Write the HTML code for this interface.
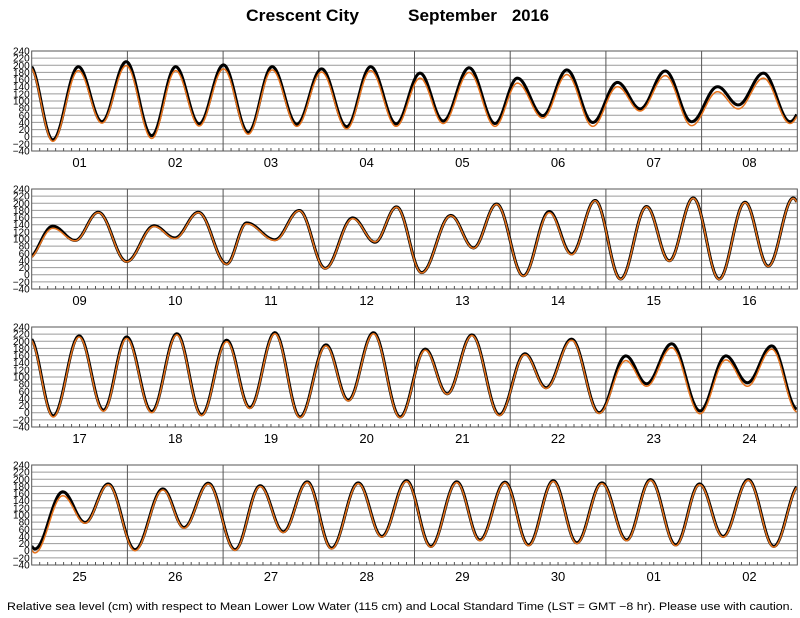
<!DOCTYPE html>
<html><head><meta charset="utf-8"><style>
html,body{margin:0;padding:0;background:#fff;}
svg{display:block;font-family:"Liberation Sans",sans-serif;}
</style></head><body>
<svg id="chart" width="800" height="618" viewBox="0 0 800 618" xmlns="http://www.w3.org/2000/svg">
<text x="246" y="21" font-size="17" font-weight="bold" textLength="113" lengthAdjust="spacingAndGlyphs">Crescent City</text>
<text x="408" y="21" font-size="17" font-weight="bold" textLength="89" lengthAdjust="spacingAndGlyphs">September</text>
<text x="512" y="21" font-size="17" font-weight="bold" textLength="37" lengthAdjust="spacingAndGlyphs">2016</text>
<text x="400" y="610" font-size="11" text-anchor="middle" textLength="786" lengthAdjust="spacingAndGlyphs">Relative sea level (cm) with respect to Mean Lower Low Water (115 cm) and Local Standard Time (LST = GMT −8 hr). Please use with caution.</text>
<g id="panels"></g>
</svg>
<script>
// Day labels per panel
const dayLabels = [
 ["01","02","03","04","05","06","07","08"],
 ["09","10","11","12","13","14","15","16"],
 ["17","18","19","20","21","22","23","24"],
 ["25","26","27","28","29","30","01","02"]
];
const yTicks = [240,220,200,180,160,140,120,100,80,60,40,20,0,-20,-40];
// Extreme times (hours from panel start) and heights (cm)
const times1 = [-0.5,5.3,11.7,17.6,23.7,30.1,36.1,42.0,48.1,54.3,60.3,66.5,72.7,79.0,85.0,91.4,97.4,103.2,109.7,116.2,121.8,128.2,134.2,140.7,146.9,152.6,158.9,165.5,172.0,177.2,183.5,190.2,196.5];
const obs1 = [200,-9,196,42,210,3,196,36,201,12,196,35,190,28,196,36,178,44,193,37,164,59,187,40,152,78,184,42,140,89,178,42,170];
const pred1 = [195,-13,185,38,199,-5,185,30,190,7,187,29,181,22,185,29,164,37,180,29,150,52,174,29,140,72,171,31,126,78,164,37,160];
const times2 = [-1,5.3,10.9,16.7,23.8,30.7,35.9,41.8,48.9,53.9,61.0,67.1,73.6,80.5,86.1,91.5,97.8,105.1,110.8,116.6,123.3,129.8,135.4,141.3,147.7,154.2,159.9,165.9,172.4,178.9,184.7,191.0,197];
const obs2 = [45,136,96,175,37,137,103,175,30,145,98,180,18,159,91,190,6,166,75,198,-3,177,58,208,-12,191,39,215,-12,203,24,215,-10];
const pred2 = [43,130,95,174,36,135,101,174,29,143,96,179,17,157,92,189,5,165,74,197,-4,174,56,207,-13,190,38,214,-13,202,23,214,-11];
const times3 = [-0.5,5.4,11.9,18.0,23.8,30.1,36.4,42.6,48.9,54.7,61.0,67.3,73.8,79.4,85.7,92.4,98.7,104.2,110.4,117.3,123.7,129.0,135.4,142.3,149.0,154.2,160.5,167.6,174.1,179.5,185.6,192];
const obs3 = [210,-9,215,7,212,3,221,-6,203,14,224,-12,190,35,224,-12,178,53,218,-6,165,70,206,0,159,81,193,5,159,84,187,10];
const pred3 = [206,-12,212,4,208,0,218,-8,199,12,221,-14,187,33,221,-14,175,52,216,-8,163,68,203,-2,146,74,182,-3,148,74,178,2];
const times4 = [-5,0.8,7.8,13.4,19.2,25.9,32.9,38.2,44.3,51.0,57.3,63.1,69.1,75.2,81.9,87.8,94.0,100.1,106.6,112.4,118.7,124.6,130.8,136.7,143.0,149.2,155.2,161.5,167.5,173.4,179.7,186.1,192.6];
const obs4 = [180,5,165,79,187,3,173,65,189,3,182,53,193,7,190,40,196,12,193,30,192,16,196,22,190,30,199,16,187,40,199,12,185];
const pred4 = [175,-6,154,77,185,0,170,63,187,1,180,51,191,5,188,38,194,10,191,28,190,14,194,20,188,28,197,14,185,38,197,10,183];
const panelTimes = [times1,times2,times3,times4];
const panelObs = [obs1,obs2,obs3,obs4];
const panelPred = [pred1,pred2,pred3,pred4];

const NS = "http://www.w3.org/2000/svg";
const X0 = 31.7, DAYW = 95.7, NDAYS = 8, PH = 100, TOP0 = 51, PSTEP = 138;
const YMAX = 240, YMIN = -40;
const root = document.getElementById('panels');
function mk(tag, attrs, parent){const e=document.createElementNS(NS,tag);for(const k in attrs)e.setAttribute(k,attrs[k]);(parent||root).appendChild(e);return e;}
function valAt(ts, vs, h){
  for(let i=0;i<ts.length-1;i++){
    if(h>=ts[i] && h<=ts[i+1]){
      const f=(h-ts[i])/(ts[i+1]-ts[i]);
      return vs[i]+(vs[i+1]-vs[i])*(1-Math.cos(Math.PI*f))/2;
    }
  }
  return h<ts[0]?vs[0]:vs[vs.length-1];
}
const W = DAYW*NDAYS;
for(let p=0;p<4;p++){
  const top = TOP0 + p*PSTEP;
  const yScale = v => top + (YMAX - v)/(YMAX-YMIN)*PH;
  const g = mk('g',{});
  
  
  yTicks.forEach(v=>{
    const y=yScale(v);
    if(v!==YMAX && v!==YMIN){
      const l=mk('line',{x1:X0,x2:X0+W,y1:y,y2:y,stroke:'#9a9a9a','stroke-width':1},g);
      
      
    }
    const t=mk('text',{x:X0-2,y:y+3.5,'font-size':10,'text-anchor':'end'},g);
    
    
    t.textContent = v<0 ? '\u2212'+(-v) : String(v);
  });
  for(let d=1; d<NDAYS; d++){
    const x=X0+d*DAYW;
    const l=mk('line',{x1:x,x2:x,y1:top,y2:top+PH,stroke:'#555','stroke-width':1},g);
    
    
  }
  for(let k=1;k<NDAYS*12;k++){
    const x=X0+k*DAYW/12;
    const l=mk('line',{x1:x,x2:x,y1:top+PH,y2:top+PH-3,stroke:'#555','stroke-width':1},g);
    
    
  }
  dayLabels[p].forEach((lab,d)=>{
    const t=mk('text',{x:X0+(d+0.5)*DAYW,y:top+PH+16,'font-size':13,'text-anchor':'middle'},g);
    
    
    t.textContent=lab;
  });
  const ts=panelTimes[p];
  function series(vs){
    let d='';
    for(let px=0;px<=W;px+=1){
      const h=px/DAYW*24;
      const v=valAt(ts,vs,h);
      d+=(px?'L':'M')+(X0+px).toFixed(1)+' '+yScale(v).toFixed(2);
    }
    return d;
  }
  const clipId='clip'+p;
  const cp=mk('clipPath',{id:clipId},g);
  mk('rect',{x:X0,y:top,width:W,height:PH},cp);
  const ob=mk('path',{d:series(panelObs[p]),fill:'none',stroke:'#000','stroke-width':3,'clip-path':'url(#'+clipId+')'},g);
  
  
  const pr=mk('path',{d:series(panelPred[p]),fill:'none',stroke:'#e8731c','stroke-width':1.5,'clip-path':'url(#'+clipId+')'},g);
  
  
  const fr=mk('rect',{x:X0,y:top,width:W,height:PH,fill:'none',stroke:'#555','stroke-width':1},g);
  
  
}
</script>
</body></html>
